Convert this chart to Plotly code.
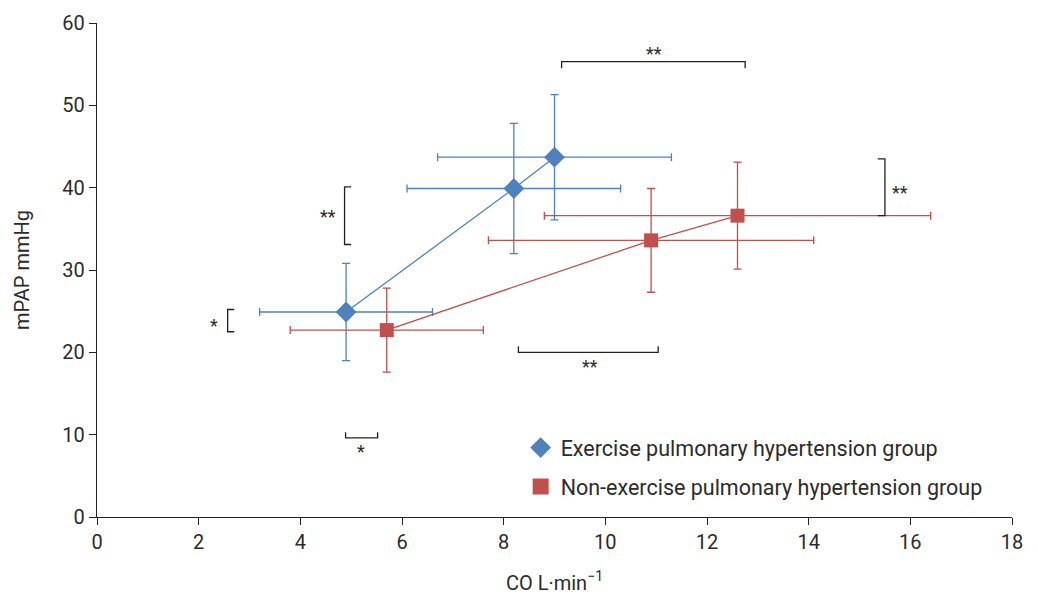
import plotly.graph_objects as go

# Data
ex_co = [4.9, 8.2, 9.0]
ex_mpap = [24.9, 39.9, 43.7]
ex_co_sd = [1.7, 2.1, 2.3]
ex_mpap_sd = [5.9, 7.9, 7.6]

nex_co = [5.7, 10.9, 12.6]
nex_mpap = [22.7, 33.6, 36.6]
nex_co_sd = [1.9, 3.2, 3.8]
nex_mpap_sd = [5.1, 6.3, 6.5]

x_ticks = [0, 2, 4, 6, 8, 10, 12, 14, 16, 18]
y_ticks = [0, 10, 20, 30, 40, 50, 60]

series_names = ["Exercise pulmonary hypertension group",
                "Non-exercise pulmonary hypertension group"]

BLUE = "#4F81BD"
RED = "#C0504D"
FONT = "Roboto"
TXT = "#2b2b2b"

fig = go.Figure()
fig.add_trace(go.Scatter(
    x=ex_co, y=ex_mpap, mode="lines+markers", showlegend=False,
    line=dict(color=BLUE, width=1.3),
    marker=dict(symbol="diamond", size=16, color=BLUE),
    error_x=dict(type="data", array=ex_co_sd, color=BLUE, thickness=1.3, width=4),
    error_y=dict(type="data", array=ex_mpap_sd, color=BLUE, thickness=1.3, width=4),
))
fig.add_trace(go.Scatter(
    x=nex_co, y=nex_mpap, mode="lines+markers", showlegend=False,
    line=dict(color=RED, width=1.3),
    marker=dict(symbol="square", size=14, color=RED),
    error_x=dict(type="data", array=nex_co_sd, color=RED, thickness=1.3, width=4),
    error_y=dict(type="data", array=nex_mpap_sd, color=RED, thickness=1.3, width=4),
))
# legend-only entries (marker only)
fig.add_trace(go.Scatter(x=[None], y=[None], mode="markers", name=series_names[0],
                         marker=dict(symbol="diamond", size=16, color=BLUE),
                         legendgroup="a"))
fig.add_trace(go.Scatter(x=[None], y=[None], mode="markers", name=series_names[1],
                         marker=dict(symbol="square", size=16, color=RED),
                         legendgroup="b"))

brk_col = "#222222"
def vbracket(x, y0, y1, dx, label, lx, ly):
    fig.add_shape(type="path",
                  path=f"M {x+dx} {y0} L {x} {y0} L {x} {y1} L {x+dx} {y1}",
                  line=dict(color=brk_col, width=1.3))
    fig.add_annotation(x=lx, y=ly, text=label, showarrow=False,
                       font=dict(size=18, color=TXT, family=FONT))

def hbracket(y, x0, x1, dy, label, lx, ly):
    fig.add_shape(type="path",
                  path=f"M {x0} {y+dy} L {x0} {y} L {x1} {y} L {x1} {y+dy}",
                  line=dict(color=brk_col, width=1.3))
    fig.add_annotation(x=lx, y=ly, text=label, showarrow=False,
                       font=dict(size=18, color=TXT, family=FONT))

vbracket(2.57, 25.2, 22.5, 0.13, "*", 2.3, 23.3)
vbracket(4.87, 40.1, 33.1, 0.13, "**", 4.55, 36.5)
hbracket(55.3, 9.14, 12.75, -0.8, "**", 10.95, 56.3)
vbracket(15.5, 43.5, 36.6, -0.14, "**", 15.8, 39.4)
hbracket(20.0, 8.29, 11.04, 0.75, "**", 9.7, 18.3)
hbracket(9.6, 4.89, 5.52, 0.7, "*", 5.2, 7.9)

fig.update_layout(
    width=1038, height=594,
    margin=dict(l=89, r=34, t=15, b=85),
    paper_bgcolor="white", plot_bgcolor="white",
    font=dict(family=FONT, size=20, color=TXT),
    showlegend=True,
    legend=dict(x=0.463, y=0.182, xanchor="left", yanchor="top",
                bgcolor="rgba(0,0,0,0)", font=dict(size=21.5, color=TXT),
                traceorder="grouped", tracegroupgap=8),
    xaxis=dict(range=[0, 18], tickvals=x_ticks, showgrid=False, zeroline=False,
               showline=True, linecolor="#222222", linewidth=1.3, automargin=False,
               ticks="outside", ticklen=7, tickcolor="#222222",
               tickfont=dict(size=20),
               title=dict(text="CO L·min<sup>−1</sup>", font=dict(size=20), standoff=22)),
    yaxis=dict(range=[0, 60], tickvals=y_ticks, showgrid=False, zeroline=False,
               showline=True, linecolor="#222222", linewidth=1.3, automargin=False,
               ticks="outside", ticklen=7, tickcolor="#222222",
               tickfont=dict(size=20),
               title=dict(text="mPAP mmHg", font=dict(size=20), standoff=27)),
)

fig.write_html("out.html")
